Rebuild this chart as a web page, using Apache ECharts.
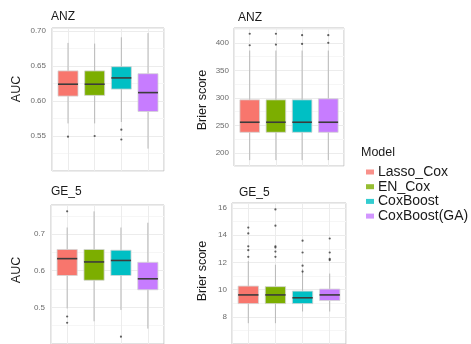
<!DOCTYPE html>
<html>
<head>
<meta charset="utf-8">
<script src="https://cdn.jsdelivr.net/npm/echarts@6/dist/echarts.min.js"></script>
<style>
  html, body { margin: 0; padding: 0; background: #ffffff; }
  #chart { width: 471px; height: 344px; }
</style>
</head>
<body>
<div id="chart"></div>
<script>
// ---- data ----
const models = ['Lasso_Cox', 'EN_Cox', 'CoxBoost', 'CoxBoost(GA)'];
const modelColors = ['#F8766D', '#7CAE00', '#00BFC4', '#C77CFF'];
const panelTitles = ['ANZ', 'ANZ', 'GE_5', 'GE_5'];
const yAxisTitles = ['AUC', 'Brier score', 'AUC', 'Brier score'];

// box stats per model: [lower whisker, Q1, median, Q3, upper whisker]
const anzAucBoxes = [
  [0.568, 0.607, 0.624, 0.643, 0.683],
  [0.568, 0.608, 0.624, 0.643, 0.682],
  [0.570, 0.617, 0.633, 0.649, 0.691],
  [0.532, 0.585, 0.612, 0.639, 0.697]
];
const anzAucOutliers = [[0.549], [0.550], [0.559, 0.545], []];

const anzBrierBoxes = [
  [186.7, 237.3, 255.6, 296.3, 386],
  [186.7, 237.3, 255.6, 296.3, 386],
  [186.7, 237.3, 255.6, 296.3, 386],
  [186.7, 237.3, 255.6, 298.2, 386]
];
const anzBrierOutliers = [[416.5, 395.6], [416.5, 396.9], [413.9, 398], [413.9, 400]];

const ge5AucBoxes = [
  [0.497, 0.587, 0.633, 0.658, 0.718],
  [0.462, 0.574, 0.624, 0.658, 0.762],
  [0.493, 0.587, 0.628, 0.656, 0.718],
  [0.442, 0.548, 0.578, 0.623, 0.731]
];
const ge5AucOutliers = [[0.762, 0.475, 0.458], [], [0.420], []];

const ge5BrierBoxes = [
  [7.53, 8.97, 9.61, 10.26, 12.09],
  [7.53, 8.97, 9.61, 10.22, 11.83],
  [8.39, 8.97, 9.40, 9.89, 11.50],
  [8.39, 9.20, 9.61, 10.04, 11.18]
];
const ge5BrierOutliers = [
  [14.56, 14.13, 13.18, 12.90, 12.41],
  [15.90, 14.70, 13.18, 13.10, 12.80, 12.41],
  [13.60, 12.73, 11.76, 11.33],
  [13.76, 12.73, 12.26, 12.17]
];

// ---- build ----
const FONT = "'Liberation Sans', Arial, sans-serif";
const panelBoxes = [anzAucBoxes, anzBrierBoxes, ge5AucBoxes, ge5BrierBoxes];
const panelOutliers = [anzAucOutliers, anzBrierOutliers, ge5AucOutliers, ge5BrierOutliers];

const grids = [
  { left: 52, top: 28, width: 112, height: 143 },
  { left: 234, top: 28, width: 110, height: 138 },
  { left: 51, top: 205, width: 113, height: 143.4 },
  { left: 232, top: 203, width: 114, height: 160.2 }
];
const yCfg = [
  { min: 0.5, max: 0.7043, interval: 0.05, fmt: v => v.toFixed(2), margin: 6 },
  { min: 176, max: 427, fmt: v => String(Math.round(v)), margin: 5 },
  { min: 0.4, max: 0.7794, interval: 0.1, fmt: v => v.toFixed(1), margin: 6 },
  { min: 6, max: 16.37, interval: 2, fmt: v => String(Math.round(v)), margin: 5 }
];

const xAxes = grids.map((g, i) => ({
  type: 'value', gridIndex: i, min: 0.4, max: 4.6, splitNumber: 4,
  axisLine: { show: false }, axisTick: { show: false }, axisLabel: { show: false },
  splitLine: { show: true, lineStyle: { color: '#ececec', width: 1 } }
}));

const yAxes = yCfg.map((c, i) => {
  const ax = {
    type: 'value', gridIndex: i, min: c.min, max: c.max,
    axisLine: { show: false }, axisTick: { show: false },
    axisLabel: {
      fontSize: 8, color: '#6b6b6b', fontFamily: FONT, margin: c.margin,
      showMinLabel: false, showMaxLabel: false, formatter: c.fmt
    },
    splitLine: { show: true, lineStyle: { color: '#ececec', width: 1 } },
    minorTick: { show: false, splitNumber: 2 },
    minorSplitLine: { show: true, lineStyle: { color: '#f6f6f6', width: 1 } }
  };
  if (c.interval) ax.interval = c.interval;
  return ax;
});

function renderBox(params, api) {
  const x = api.value(0);
  const lo = api.value(1), q1 = api.value(2), med = api.value(3), q3 = api.value(4), hi = api.value(5);
  const hw = 0.375;
  const tl = api.coord([x - hw, q3]);
  const br = api.coord([x + hw, q1]);
  const pHi = api.coord([x, hi]);
  const pLo = api.coord([x, lo]);
  const mL = api.coord([x - hw, med]);
  const mR = api.coord([x + hw, med]);
  const color = modelColors[params.dataIndex];
  return {
    type: 'group',
    children: [
      { type: 'line', shape: { x1: pHi[0], y1: pHi[1], x2: pLo[0], y2: pLo[1] },
        style: { stroke: '#b8b8b8', lineWidth: 1 } },
      { type: 'rect', shape: { x: tl[0], y: tl[1], width: br[0] - tl[0], height: br[1] - tl[1] },
        style: { fill: color, stroke: '#d4d4d4', lineWidth: 0.8 } },
      { type: 'line', shape: { x1: mL[0], y1: mL[1], x2: mR[0], y2: mR[1] },
        style: { stroke: '#3c3c3c', lineWidth: 1.6 } }
    ]
  };
}

const series = [];
panelBoxes.forEach((boxes, p) => {
  series.push({
    type: 'custom', name: yAxisTitles[p] + ' ' + panelTitles[p],
    xAxisIndex: p, yAxisIndex: p,
    renderItem: renderBox,
    encode: { x: 0, y: [1, 2, 3, 4, 5] },
    data: boxes.map((b, i) => [i + 1].concat(b)),
    silent: true, clip: true
  });
  const pts = [];
  panelOutliers[p].forEach((vals, i) => vals.forEach(v => pts.push([i + 1, v])));
  series.push({
    type: 'scatter', xAxisIndex: p, yAxisIndex: p,
    symbol: 'circle', symbolSize: 2.2,
    itemStyle: { color: '#3a3a3a' },
    data: pts, silent: true, clip: true
  });
});
// legend entries
models.forEach((m, i) => {
  series.push({ type: 'scatter', name: m, xAxisIndex: 0, yAxisIndex: 0, data: [],
    itemStyle: { color: modelColors[i] } });
});

const titlePos = [
  { left: 51, top: 11 },
  { left: 238, top: 12 },
  { left: 51, top: 186 },
  { left: 239, top: 187 }
];
const titles = panelTitles.map((t, i) => ({
  text: t, left: titlePos[i].left, top: titlePos[i].top, padding: 0,
  textStyle: { fontSize: 12, fontWeight: 'normal', color: '#1a1a1a', fontFamily: FONT }
}));
titles.push({
  text: 'Model', left: 361, top: 146, padding: 0,
  textStyle: { fontSize: 12.5, fontWeight: 'normal', color: '#1a1a1a', fontFamily: FONT }
});

const yTitlePos = [[17, 89], [203, 100], [17, 270], [203, 271]];
const graphics = yAxisTitles.map((t, i) => ({
  type: 'text', x: yTitlePos[i][0], y: yTitlePos[i][1], rotation: Math.PI / 2,
  style: { text: t, fontSize: 12.5, fill: '#1a1a1a', fontFamily: FONT, align: 'center', verticalAlign: 'middle' }
}));

const option = {
  animation: false,
  backgroundColor: '#ffffff',
  title: titles,
  grid: grids.map(g => Object.assign({ show: true, borderColor: '#c2c2c2', borderWidth: 1, backgroundColor: 'transparent' }, g)),
  xAxis: xAxes,
  yAxis: yAxes,
  legend: {
    data: models, orient: 'vertical', left: 366, top: 165,
    icon: 'rect', itemWidth: 8, itemHeight: 5, itemGap: 0.7, padding: 0,
    selectedMode: false,
    textStyle: { fontSize: 14, color: '#1a1a1a', fontFamily: FONT, padding: [0, 0, 0, -1] }
  },
  graphic: graphics,
  series: series
};

const chart = echarts.init(document.getElementById('chart'), null, { renderer: 'canvas' });
chart.setOption(option);
</script>
</body>
</html>
